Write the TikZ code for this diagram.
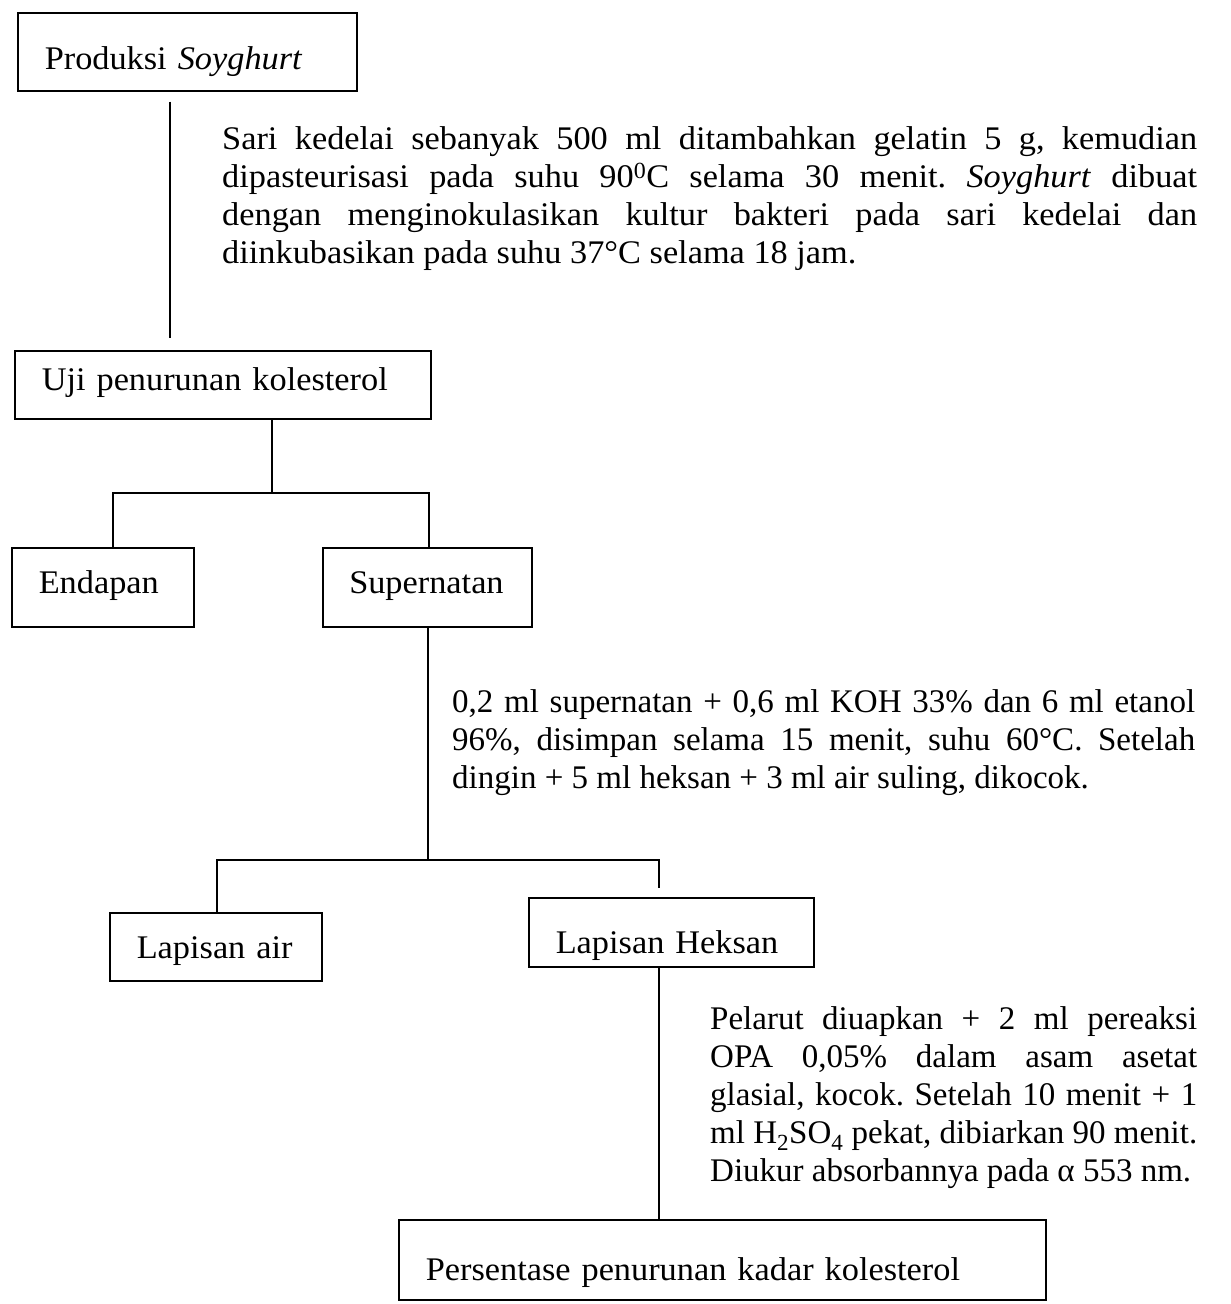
\documentclass[tikz,border=0pt]{standalone}
\usepackage{fontspec}
\setmainfont{Liberation Serif}[FakeStretch=1.04]
\newfontfamily\narrowserif{Liberation Serif}
\newcommand{\parasetup}{\tolerance=9999 \hbadness=10000 \frenchspacing}
\begin{document}
\begin{tikzpicture}[x=1pt,y=-1pt,
  box/.style={draw, line width=1.5pt, inner xsep=27pt, inner ysep=0pt, anchor=north west, align=left, text depth=0pt, font=\fontsize{33}{38}\selectfont},
  para/.style={inner sep=0pt, anchor=north west, align=justify, font=\fontsize{33}{38}\selectfont},
  narrowpara/.style={para, font=\narrowserif\fontsize{33}{38}\selectfont},
  conn/.style={line width=1.6pt}]
\fill[white] (0,0) rectangle (1231,1304);
\useasboundingbox (0,0) rectangle (1231,1304);

\node[box, text width=285pt, minimum height=78pt, text height=36pt] (prod) at (17,12) {Produksi \textit{Soyghurt}};
\node[box, text width=362pt, minimum height=68pt, text height=12pt] (uji) at (14,350) {Uji penurunan kolesterol};
\node[box, text width=128pt, minimum height=79pt, text height=13pt] (endapan) at (11,547) {Endapan};
\node[box, text width=156pt, inner xsep=26.5pt, minimum height=79pt, text height=13pt] (super) at (322,547) {Supernatan};
\node[box, text width=158pt, minimum height=68pt, text height=24pt] (air) at (109,912) {Lapisan air};
\node[box, text width=231pt, minimum height=69pt, text height=43pt] (heksan) at (528,897) {Lapisan Heksan};
\node[box, text width=593pt, minimum height=80pt, text height=42pt] (pers) at (398,1219) {Persentase penurunan kadar kolesterol};

\node[para, text width=975pt] (t1) at (222,126.5) {\parasetup Sari kedelai sebanyak 500 ml ditambahkan gelatin 5 g, kemudian\linebreak
dipasteurisasi pada suhu 90\textsuperscript{0}C selama 30 menit. \textit{Soyghurt} dibuat\linebreak
dengan menginokulasikan kultur bakteri pada sari kedelai dan\linebreak
diinkubasikan pada suhu 37°C selama 18 jam.};

\node[narrowpara, text width=743pt] (t2) at (452,689.5) {\parasetup 0,2 ml supernatan + 0,6 ml KOH 33\% dan 6 ml etanol\linebreak
96\%, disimpan selama 15 menit, suhu 60°C. Setelah\linebreak
dingin + 5 ml heksan + 3 ml air suling, dikocok.};

\node[narrowpara, text width=487pt] (t3) at (710,1006.5) {\parasetup Pelarut diuapkan + 2 ml pereaksi\linebreak
OPA 0,05\% dalam asam asetat\linebreak
glasial, kocok. Setelah 10 menit + 1\linebreak
ml H\textsubscript{2}SO\textsubscript{4} pekat, dibiarkan 90 menit.\linebreak
Diukur absorbannya pada α 553 nm.};

\coordinate (v1) at (170,0);
\draw[conn, shorten <=10pt, shorten >=12pt] (prod.south -| v1) -- (uji.north -| v1);

\coordinate (j1) at (272,493);
\coordinate (ja) at (113,493);
\coordinate (jb) at (429,493);
\draw[conn] (uji.south -| j1) -- (j1);
\draw[conn] (endapan.north -| ja) -- (ja) -- (jb) -- (super.north -| jb);

\coordinate (j2) at (428,860);
\coordinate (jc) at (217,860);
\coordinate (jd) at (659,860);
\draw[conn] (super.south -| j2) -- (j2);
\draw[conn, shorten >=9pt] (air.north -| jc) -- (jc) -- (jd) -- (heksan.north -| jd);

\coordinate (v3) at (659,0);
\draw[conn] (heksan.south -| v3) -- (pers.north -| v3);
\end{tikzpicture}
\end{document}
